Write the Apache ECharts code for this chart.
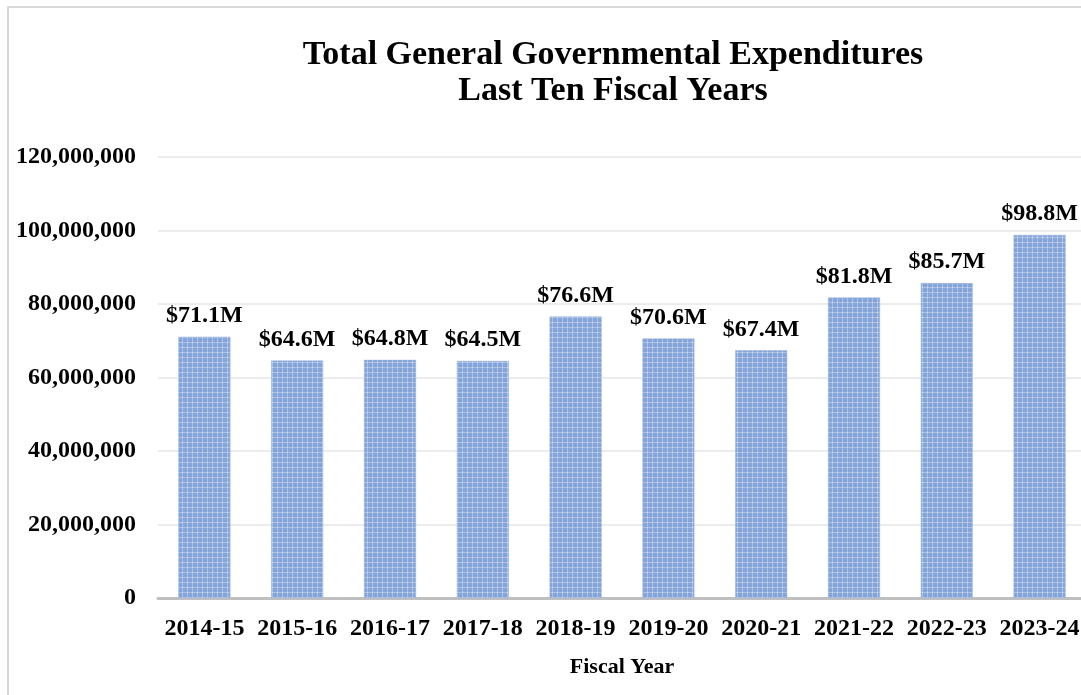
<!DOCTYPE html>
<html>
<head>
<meta charset="utf-8">
<style>
  html, body { margin: 0; padding: 0; background: #ffffff; }
  #chart { width: 1081px; height: 695px; }
</style>
<script src="https://cdn.jsdelivr.net/npm/echarts@6/dist/echarts.min.js"></script>
</head>
<body>
<div id="chart"></div>
<script>
// Fiscal years on the category axis
const fiscalYears = ['2014-15', '2015-16', '2016-17', '2017-18', '2018-19',
                     '2019-20', '2020-21', '2021-22', '2022-23', '2023-24'];
// Total general governmental expenditures, in millions of dollars
const expendituresM = [71.1, 64.6, 64.8, 64.5, 76.6, 70.6, 67.4, 81.8, 85.7, 98.8];
// Value axis range and step (dollars)
const yMin = 0;
const yMax = 120000000;
const yStep = 20000000;

const titleLines = ['Total General Governmental Expenditures', 'Last Ten Fiscal Years'];
const xAxisTitle = 'Fiscal Year';

const serif = '"Liberation Serif", "Times New Roman", Times, serif';

// Fine woven texture used to fill the bars
function makeBarPattern() {
  const c = document.createElement('canvas');
  c.width = 5; c.height = 5;
  const g = c.getContext('2d');
  g.fillStyle = '#87a6da';
  g.fillRect(0, 0, 5, 5);
  g.fillStyle = '#a9bfe6';
  g.fillRect(0, 2, 5, 1);
  g.fillRect(2, 0, 1, 5);
  g.fillStyle = '#d0ddf3';
  g.fillRect(2, 2, 1, 1);
  g.fillStyle = '#7898d0';
  g.fillRect(0, 0, 1, 1);
  return c;
}

const chart = echarts.init(document.getElementById('chart'), null, { renderer: 'canvas' });

chart.setOption({
  backgroundColor: '#ffffff',
  animation: false,
  graphic: [{
    type: 'rect',
    shape: { x: 8, y: 7, width: 1200, height: 800 },
    style: { fill: 'none', stroke: '#d9d9d9', lineWidth: 2 },
    silent: true,
    z: -10
  }],
  title: {
    text: titleLines.join('\n'),
    left: 608,
    top: 32,
    textAlign: 'center',
    textStyle: {
      fontFamily: serif,
      fontWeight: 'bold',
      fontSize: 34,
      lineHeight: 36,
      color: '#000000'
    }
  },
  // the plot runs slightly past the right edge of the page
  grid: {
    left: 158,
    width: 928,
    top: 157,
    bottom: 97,
    outerBoundsMode: 'none'
  },
  xAxis: {
    type: 'category',
    data: fiscalYears,
    name: xAxisTitle,
    nameLocation: 'middle',
    nameGap: 58,
    nameTextStyle: {
      fontFamily: serif,
      fontWeight: 'bold',
      fontSize: 22,
      color: '#000000'
    },
    axisLine: { show: true, lineStyle: { color: '#bfbfbf', width: 3 } },
    axisTick: { show: false },
    axisLabel: {
      interval: 0,
      margin: 19,
      fontFamily: serif,
      fontWeight: 'bold',
      fontSize: 24,
      color: '#000000'
    }
  },
  yAxis: {
    type: 'value',
    min: yMin,
    max: yMax,
    interval: yStep,
    axisLine: { show: false },
    axisTick: { show: false },
    splitLine: { show: true, lineStyle: { color: '#ececec', width: 2 } },
    axisLabel: {
      margin: 22,
      fontFamily: serif,
      fontWeight: 'bold',
      fontSize: 24,
      color: '#000000',
      formatter: v => v.toLocaleString('en-US')
    }
  },
  series: [{
    type: 'bar',
    barWidth: 52,
    data: expendituresM.map(v => v * 1000000),
    itemStyle: {
      color: { image: makeBarPattern(), repeat: 'repeat' },
      borderColor: '#9ab3e0',
      borderWidth: 0.5
    },
    label: {
      show: true,
      position: 'top',
      distance: 9,
      fontFamily: serif,
      fontWeight: 'bold',
      fontSize: 24,
      color: '#000000',
      formatter: p => '$' + (p.value / 1000000).toFixed(1) + 'M'
    }
  }]
});
</script>
</body>
</html>
